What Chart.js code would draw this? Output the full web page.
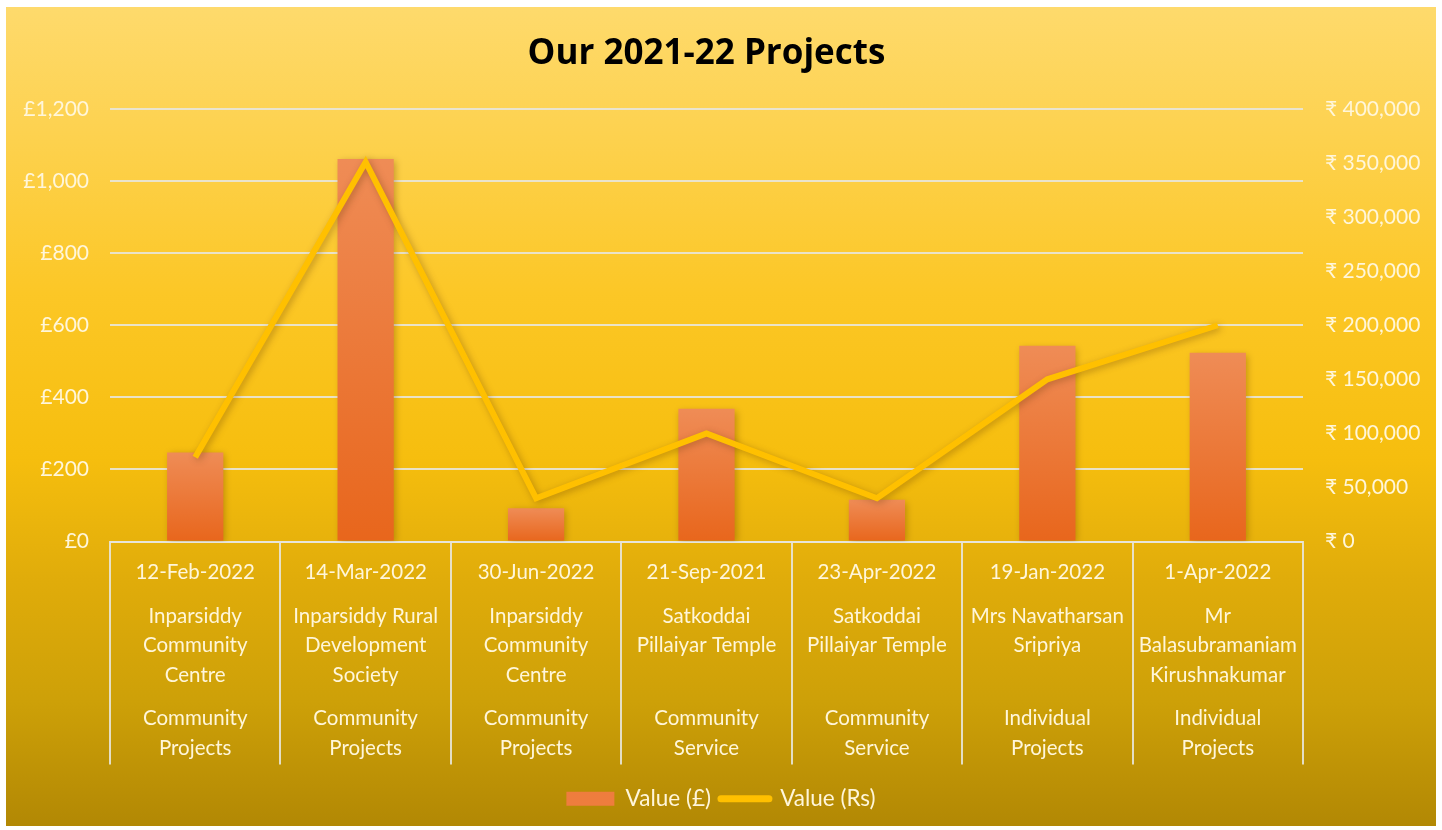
<!DOCTYPE html>
<html>
<head>
<meta charset="utf-8">
<script src="https://cdn.jsdelivr.net/npm/chart.js@4/dist/chart.umd.min.js"></script>
<style>
  html, body { margin: 0; padding: 0; background: #ffffff; width: 1442px; height: 830px; overflow: hidden; }
  #wrap { position: absolute; left: 6px; top: 7px; width: 1430px; height: 819px; }
</style>
</head>
<body>
<div id="wrap"><canvas id="c" width="1430" height="819"></canvas></div>
<script>
const chartTitle = "Our 2021-22 Projects";
const dates = ["12-Feb-2022", "14-Mar-2022", "30-Jun-2022", "21-Sep-2021", "23-Apr-2022", "19-Jan-2022", "1-Apr-2022"];
const recipients = [
  ["Inparsiddy", "Community", "Centre"],
  ["Inparsiddy Rural", "Development", "Society"],
  ["Inparsiddy", "Community", "Centre"],
  ["Satkoddai", "Pillaiyar Temple", ""],
  ["Satkoddai", "Pillaiyar Temple", ""],
  ["Mrs Navatharsan", "Sripriya", ""],
  ["Mr", "Balasubramaniam", "Kirushnakumar"]
];
const projectTypes = [
  ["Community", "Projects"],
  ["Community", "Projects"],
  ["Community", "Projects"],
  ["Community", "Service"],
  ["Community", "Service"],
  ["Individual", "Projects"],
  ["Individual", "Projects"]
];
const valuesGBP = [247, 1061, 92, 368, 116, 543, 524];
const valuesRs = [78000, 351000, 40000, 100000, 40000, 150000, 200000];
const seriesNames = ["Value (£)", "Value (Rs)"];
const gbpTicks = { min: 0, max: 1200, step: 200 };
const rsTicks = { min: 0, max: 400000, step: 50000 };

// Build multi-level labels (empty lines act as spacing)
const labels = dates.map((d, i) => [
  d, "", "",
  recipients[i][0], "", recipients[i][1], "", recipients[i][2], "", "",
  projectTypes[i][0], "", projectTypes[i][1]
]);

const FONT = "Lato, 'Noto Sans', 'DejaVu Sans', sans-serif";
const TXT = "#FFF6DA";
const GRID = "rgba(232,229,218,0.9)";

const bgPlugin = {
  id: 'bg',
  beforeDraw(chart) {
    const { ctx, width, height } = chart;
    const g = ctx.createLinearGradient(0, 0, 0, height);
    g.addColorStop(0, '#FEDA6C');
    g.addColorStop(0.15, '#FDD250');
    g.addColorStop(0.35, '#FCC726');
    g.addColorStop(0.55, '#F6BE0E');
    g.addColorStop(0.70, '#E0AC0A');
    g.addColorStop(0.85, '#CDA008');
    g.addColorStop(1, '#B28804');
    ctx.save();
    ctx.fillStyle = g;
    ctx.fillRect(0, 0, width, height);
    ctx.restore();
  }
};

const shadowPlugin = {
  id: 'shadow',
  beforeDatasetDraw(chart) {
    const ctx = chart.ctx;
    ctx.save();
    ctx.shadowColor = 'rgba(90,50,0,0.35)';
    ctx.shadowBlur = 7;
    ctx.shadowOffsetX = 2;
    ctx.shadowOffsetY = 2;
  },
  afterDatasetDraw(chart) {
    chart.ctx.restore();
  }
};

function barGradient(context) {
  const chart = context.chart;
  const area = chart.chartArea;
  if (!area || context.dataIndex === undefined) return '#EC7833';
  const ys = chart.scales.y;
  const v = context.raw;
  const top = ys.getPixelForValue(v);
  const base = ys.getPixelForValue(0);
  if (!isFinite(top) || !isFinite(base) || top === base) return '#EC7833';
  const g = chart.ctx.createLinearGradient(0, top, 0, base);
  g.addColorStop(0, '#EF8C56');
  g.addColorStop(1, '#E8661C');
  return g;
}

new Chart(document.getElementById('c'), {
  type: 'bar',
  data: {
    labels: labels,
    datasets: [
      {
        type: 'bar',
        label: seriesNames[0],
        data: valuesGBP,
        yAxisID: 'y',
        backgroundColor: barGradient,
        borderWidth: 0,
        categoryPercentage: 1,
        barPercentage: 0.33,
        order: 1
      },
      {
        type: 'line',
        label: seriesNames[1],
        data: valuesRs,
        yAxisID: 'y1',
        borderColor: '#FFC000',
        backgroundColor: '#FFC000',
        borderWidth: 6,
        borderJoinStyle: 'miter',
        pointRadius: 0,
        pointHoverRadius: 0,
        tension: 0,
        fill: false,
        order: 0
      }
    ]
  },
  options: {
    responsive: false,
    animation: false,
    layout: { padding: { top: 0, left: 0, right: 0, bottom: 6 } },
    plugins: {
      tooltip: { enabled: false },
      title: {
        display: true,
        fullSize: false,
        text: chartTitle,
        color: '#000000',
        font: { family: "'Open Sans', Lato, sans-serif", size: 35, weight: 'bold', lineHeight: 1.2 },
        padding: { top: 26, bottom: 34 }
      },
      legend: {
        position: 'bottom',
        labels: {
          color: TXT,
          font: { family: FONT, size: 22.5 },
          usePointStyle: true,
          pointStyleWidth: 48,
          boxHeight: 14,
          padding: 10,
          sort: (a, b) => a.datasetIndex - b.datasetIndex,
          generateLabels(chart) {
            const items = Chart.defaults.plugins.legend.labels.generateLabels(chart);
            items.forEach(it => {
              if (it.datasetIndex === 0) {
                it.pointStyle = 'rect';
                it.fillStyle = '#EE7D3E';
                it.strokeStyle = 'rgba(0,0,0,0)';
                it.lineWidth = 0;
              } else {
                it.pointStyle = 'line';
                it.strokeStyle = '#FFC000';
                it.fillStyle = '#FFC000';
                it.lineWidth = 7;
                it.lineCap = 'round';
              }
            });
            return items;
          }
        }
      }
    },
    scales: {
      x: {
        type: 'category',
        offset: true,
        grid: {
          display: true,
          offset: true,
          drawOnChartArea: false,
          drawTicks: true,
          tickLength: 223,
          color: GRID,
          lineWidth: 2
        },
        border: { display: true, color: GRID, width: 2 },
        ticks: {
          autoSkip: false,
          maxRotation: 0,
          minRotation: 0,
          padding: -199,
          color: TXT,
          font: { family: FONT, size: 20.5, lineHeight: 0.712 }
        },
        afterFit(scale) { scale.height = 236; }
      },
      y: {
        position: 'left',
        min: gbpTicks.min,
        max: gbpTicks.max,
        ticks: {
          stepSize: gbpTicks.step,
          color: TXT,
          padding: 21,
          font: { family: FONT, size: 21 },
          callback: v => '£' + Number(v).toLocaleString('en-US')
        },
        grid: { color: GRID, lineWidth: 2, drawTicks: false },
        border: { display: false },
        afterFit(scale) { scale.width = 104; }
      },
      y1: {
        position: 'right',
        min: rsTicks.min,
        max: rsTicks.max,
        ticks: {
          stepSize: rsTicks.step,
          color: TXT,
          padding: 22,
          font: { family: FONT, size: 21 },
          callback: v => '₹ ' + Number(v).toLocaleString('en-US')
        },
        grid: { drawOnChartArea: false, drawTicks: false },
        border: { display: false },
        afterFit(scale) { scale.width = 133; }
      }
    }
  },
  plugins: [bgPlugin, shadowPlugin]
});
</script>
</body>
</html>
